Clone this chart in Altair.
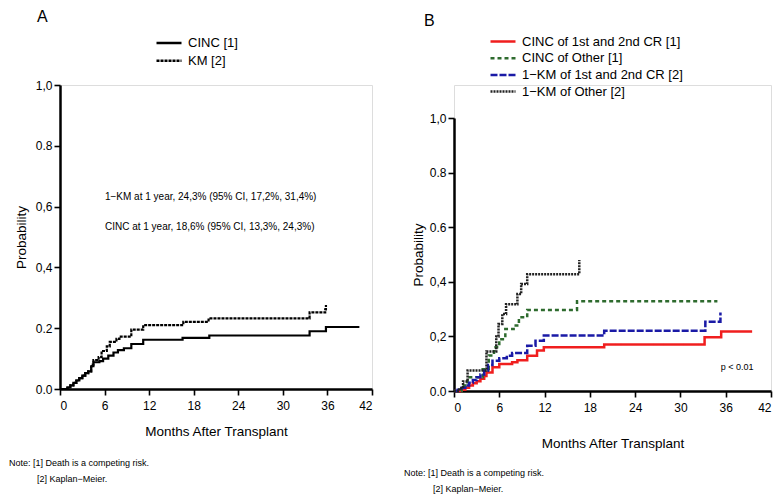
import altair as alt
import pandas as pd

FONT = "Liberation Sans"

# ---------------- data: panel A ----------------
A_SERIES = ["CINC  [1]", "KM  [2]"]
A_CINC_X = [0, 1.0, 1.4, 1.8, 2.2, 2.6, 3.0, 3.4, 3.8, 4.2, 4.5, 5.3, 5.8, 6.5, 7.2, 7.8, 8.6, 9.6, 11.2, 16.5, 20.1, 33.6, 35.8, 40.3]
A_CINC_Y = [0, 0.005, 0.012, 0.02, 0.028, 0.036, 0.044, 0.052, 0.058, 0.075, 0.088, 0.092, 0.100, 0.110, 0.120, 0.128, 0.134, 0.148, 0.162, 0.168, 0.176, 0.190, 0.204, 0.204]
A_KM_X = [0, 1.0, 1.4, 1.8, 2.2, 2.6, 3.0, 3.4, 3.8, 4.2, 4.5, 5.2, 5.6, 6.3, 6.7, 7.6, 8.0, 9.6, 11.2, 16.6, 20.0, 33.6, 35.7, 35.8]
A_KM_Y = [0, 0.005, 0.012, 0.02, 0.028, 0.036, 0.044, 0.052, 0.058, 0.08, 0.095, 0.105, 0.125, 0.14, 0.155, 0.165, 0.172, 0.195, 0.21, 0.221, 0.232, 0.252, 0.262, 0.276]
A_NOTES = ["1\u2212KM at 1 year, 24,3% (95% CI, 17,2%, 31,4%)",
           "CINC at 1 year, 18,6% (95% CI, 13,3%, 24,3%)"]
A_NOTES_X = [6.05, 6.05]
A_NOTES_Y = [0.63, 0.532]
A_YLABELS = ["0.0", "", "0.2", "", "0,4", "", "0,6", "", "0.8", "", "1,0"]

# ---------------- data: panel B ----------------
B_SERIES = ["CINC of 1st and 2nd CR [1]", "CINC of Other [1]",
            "1\u2212KM of 1st and 2nd CR [2]", "1\u2212KM of Other [2]"]
B_RED_X = [0, 1.0, 1.5, 2.0, 2.5, 3.0, 3.5, 4.0, 4.3, 5.1, 6.0, 7.7, 8.4, 9.7, 11.0, 11.9, 19.9, 33.2, 35.4, 39.5]
B_RED_Y = [0, 0.005, 0.012, 0.02, 0.028, 0.036, 0.045, 0.055, 0.068, 0.087, 0.099, 0.105, 0.113, 0.129, 0.148, 0.16, 0.17, 0.197, 0.218, 0.218]
B_GREEN_X = [0, 1.0, 1.8, 3.8, 4.6, 5.3, 6.0, 6.8, 7.9, 8.6, 9.7, 16.3, 34.9]
B_GREEN_Y = [0, 0.02, 0.05, 0.08, 0.13, 0.16, 0.19, 0.227, 0.24, 0.27, 0.297, 0.329, 0.329]
B_BLUE_X = [0, 0.5, 1.0, 1.5, 2.0, 2.5, 3.0, 3.5, 4.0, 4.5, 5.1, 6.0, 7.0, 7.7, 9.7, 10.8, 11.9, 19.9, 33.3, 35.3]
B_BLUE_Y = [0, 0.005, 0.012, 0.02, 0.03, 0.04, 0.05, 0.06, 0.074, 0.095, 0.111, 0.12, 0.129, 0.139, 0.166, 0.184, 0.203, 0.221, 0.254, 0.288]
B_BLACK_X = [0, 0.7, 1.2, 1.8, 4.3, 5.6, 5.9, 6.4, 6.9, 8.4, 8.9, 9.7, 16.6]
B_BLACK_Y = [0, 0.01, 0.035, 0.075, 0.145, 0.20, 0.245, 0.282, 0.318, 0.355, 0.392, 0.428, 0.48]
B_COLORS = ["#f01e1e", "#2e6b2e", "#1a1aa6", "#222222"]
B_DASHES = [[1, 0], [4, 3], [7, 2], [2, 1]]
B_YLABELS = ["0.0", "", "0,2", "", "0,4", "", "0.6", "", "0.8", "", "1,0"]
B_PTEXT = ["p < 0.01"]
B_PTEXT_X = [37.5]
B_PTEXT_Y = [0.088]

X_TICKS = list(range(0, 43, 3))
Y_TICKS = [round(i * 0.1, 1) for i in range(11)]
PANEL_LABELS = ["A", "B"]
NOTE_LINE1 = "Note:  [1]  Death  is  a  competing  risk."
NOTE_LINE2 = "[2]  Kaplan\u2212Meier."
X_TITLE = "Months After Transplant"
Y_TITLE = "Probability"


def frame(xs, ys, name, col):
    return pd.DataFrame({"month": xs, "prob": ys, col: name})


dfA = pd.concat([frame(A_CINC_X, A_CINC_Y, A_SERIES[0], "curveA"),
                 frame(A_KM_X, A_KM_Y, A_SERIES[1], "curveA")], ignore_index=True)
dfB = pd.concat([frame(B_RED_X, B_RED_Y, B_SERIES[0], "curveB"),
                 frame(B_GREEN_X, B_GREEN_Y, B_SERIES[1], "curveB"),
                 frame(B_BLUE_X, B_BLUE_Y, B_SERIES[2], "curveB"),
                 frame(B_BLACK_X, B_BLACK_Y, B_SERIES[3], "curveB")], ignore_index=True)


def x_axis(title_pad):
    return alt.Axis(values=X_TICKS, title=X_TITLE, grid=False,
                    labelExpr="datum.value % 6 == 0 ? datum.label : ''",
                    tickSize={"condition": {"test": "datum.value % 6 == 0", "value": 6}, "value": 4},
                    tickWidth=1.6, tickColor="black", domainColor="black", domainWidth=2.5,
                    labelFont=FONT, labelFontSize=12, labelColor="black", labelPadding=5,
                    titleFont=FONT, titleFontSize=13.5, titleFontWeight="normal",
                    titleColor="black", titlePadding=title_pad)


def y_axis(labels, title_pad):
    arr = "[" + ",".join("'%s'" % s for s in labels) + "]"
    return alt.Axis(values=Y_TICKS, title=Y_TITLE, grid=False,
                    labelExpr=arr + "[round(datum.value*10)]",
                    tickSize={"condition": {"test": "round(datum.value*10) % 2 == 0", "value": 6}, "value": 4},
                    tickWidth=1.6, tickColor="black", domainColor="black", domainWidth=2.5,
                    labelFont=FONT, labelFontSize=12, labelColor="black", labelPadding=2,
                    titleFont=FONT, titleFontSize=13.5, titleFontWeight="normal",
                    titleColor="black", titlePadding=title_pad)


def legend(lx, ly, clip_h, stroke_black):
    extra = {"symbolStrokeColor": "black"} if stroke_black else {}
    return alt.Legend(title=None, orient="none", legendX=lx, legendY=ly,
                      symbolType="stroke", symbolSize=625, symbolStrokeWidth=2.5,
                      labelFont=FONT, labelFontSize=13, labelColor="black", labelLimit=400,
                      labelOffset=5, clipHeight=clip_h, rowPadding=1.7, **extra)


def text_layer(label, x, y, size=16, baseline="alphabetic"):
    return alt.Chart(pd.DataFrame({"t": [label]})).mark_text(
        align="left", baseline=baseline, font=FONT, fontSize=size, color="black"
    ).encode(x=alt.value(x), y=alt.value(y), text="t:N")


# ---------------- panel A ----------------
xA = alt.X("month:Q", scale=alt.Scale(domain=[0, 42], nice=False), axis=x_axis(13))
yA = alt.Y("prob:Q", scale=alt.Scale(domain=[0, 1], nice=False), axis=y_axis(A_YLABELS, 6.5))

linesA = alt.Chart(dfA).mark_line(interpolate="step-after", strokeWidth=2.2, color="black").encode(
    x=xA, y=yA,
    strokeDash=alt.StrokeDash("curveA:N", scale=alt.Scale(domain=A_SERIES, range=[[1, 0], [3, 1]]),
                              legend=legend(95, -50, 16, True)),
)
notesA = alt.Chart(pd.DataFrame({"month": A_NOTES_X, "prob": A_NOTES_Y, "t": A_NOTES})).mark_text(
    align="left", baseline="middle", font=FONT, fontSize=10, color="black"
).encode(x="month:Q", y="prob:Q", text="t:N")

panelA = alt.layer(
    linesA, notesA,
    text_layer(PANEL_LABELS[0], -23, -63),
    text_layer(NOTE_LINE1, -51, 377.5, size=9, baseline="middle"),
    text_layer(NOTE_LINE2, -23, 393.5, size=9, baseline="middle"),
).properties(width=312, height=304)

# ---------------- panel B ----------------
xB = alt.X("month:Q", scale=alt.Scale(domain=[0, 42], nice=False), axis=x_axis(23))
yB = alt.Y("prob:Q", scale=alt.Scale(domain=[0, 1], nice=False, range=[306, 33]),
           axis=y_axis(B_YLABELS, 4))

linesB = alt.Chart(dfB).mark_line(interpolate="step-after", strokeWidth=2.5).encode(
    x=xB, y=yB,
    color=alt.Color("curveB:N", scale=alt.Scale(domain=B_SERIES, range=B_COLORS),
                    legend=legend(35, -51, 15, False)),
    strokeDash=alt.StrokeDash("curveB:N", scale=alt.Scale(domain=B_SERIES, range=B_DASHES),
                              legend=legend(35, -51, 15, False)),
)
ptextB = alt.Chart(pd.DataFrame({"month": B_PTEXT_X, "prob": B_PTEXT_Y, "t": B_PTEXT})).mark_text(
    align="center", baseline="middle", font=FONT, fontSize=9, color="black"
).encode(x="month:Q", y="prob:Q", text="t:N")

panelB = alt.layer(
    linesB, ptextB,
    text_layer(PANEL_LABELS[1], -30, -59),
    text_layer(NOTE_LINE1, -50, 387.5, size=9, baseline="middle"),
    text_layer(NOTE_LINE2, -21, 403.5, size=9, baseline="middle"),
).properties(width=317, height=306)

chart = alt.hconcat(panelA, panelB, spacing=29).resolve_scale(
    strokeDash="independent", color="independent"
).resolve_legend(strokeDash="independent", color="independent").properties(
    padding={"left": 0, "top": 0, "right": 0, "bottom": 0}
).configure_view(stroke=None).configure(background="white")

chart.save("out.html", embed_options={"renderer": "svg", "actions": False})
